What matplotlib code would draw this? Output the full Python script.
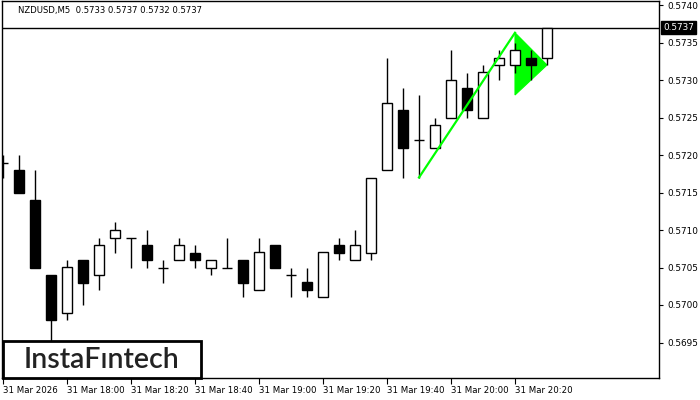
from __future__ import annotations

import matplotlib

matplotlib.use("Agg")

import matplotlib.pyplot as plt
import numpy as np
from matplotlib.patches import Polygon, Rectangle

OUT_PATH = "out.png"

# M5 candles, 17:40 .. 20:30
OPENS = [0.5719, 0.5718, 0.5714, 0.5704, 0.5699, 0.5706, 0.5704, 0.5709, 0.5709, 0.5708,
         0.5705, 0.5706, 0.5707, 0.5705, 0.5705, 0.5706, 0.5702, 0.5708, 0.5704, 0.5703,
         0.5701, 0.5708, 0.5706, 0.5707, 0.5718, 0.5726, 0.5722, 0.5721, 0.5725, 0.5729,
         0.5725, 0.5732, 0.5732, 0.5733, 0.5733]
HIGHS = [0.5720, 0.5720, 0.5718, 0.5704, 0.5706, 0.5706, 0.5709, 0.5711, 0.5709, 0.5710,
         0.5706, 0.5709, 0.5708, 0.5706, 0.5709, 0.5706, 0.5709, 0.5708, 0.5705, 0.5705,
         0.5707, 0.5709, 0.5710, 0.5717, 0.5733, 0.5729, 0.5728, 0.5725, 0.5734, 0.5731,
         0.5732, 0.5734, 0.5735, 0.5734, 0.5737]
LOWS = [0.5717, 0.5715, 0.5705, 0.5694, 0.5698, 0.5700, 0.5702, 0.5707, 0.5705, 0.5705,
        0.5703, 0.5706, 0.5705, 0.5704, 0.5705, 0.5701, 0.5702, 0.5705, 0.5701, 0.5701,
        0.5701, 0.5706, 0.5706, 0.5706, 0.5718, 0.5717, 0.5717, 0.5721, 0.5725, 0.5725,
        0.5725, 0.5730, 0.5731, 0.5730, 0.5732]
CLOSES = [0.5719, 0.5715, 0.5705, 0.5698, 0.5705, 0.5703, 0.5708, 0.5710, 0.5709, 0.5706,
          0.5705, 0.5708, 0.5706, 0.5706, 0.5705, 0.5703, 0.5707, 0.5705, 0.5704, 0.5702,
          0.5707, 0.5707, 0.5708, 0.5717, 0.5727, 0.5721, 0.5722, 0.5724, 0.5730, 0.5726,
          0.5731, 0.5733, 0.5734, 0.5732, 0.5737]

TIME_TICKS = [0, 4, 8, 12, 16, 20, 24, 28, 32]
TIME_LABELS = ["31 Mar 2026", "31 Mar 18:00", "31 Mar 18:20", "31 Mar 18:40", "31 Mar 19:00",
               "31 Mar 19:20", "31 Mar 19:40", "31 Mar 20:00", "31 Mar 20:20"]
PRICE_TICKS = [0.5695, 0.5700, 0.5705, 0.5710, 0.5715, 0.5720, 0.5725, 0.5730, 0.5735, 0.5740]

# bullish pennant: pole and flag
POLE_X = [26, 32]
POLE_Y = [0.5717, 0.57363]
FLAG_X = [32, 32, 34]
FLAG_Y = [0.57363, 0.5728, 0.5732]

LAST_PRICE = 0.5737
TITLE = "NZDUSD,M5  0.5733 0.5737 0.5732 0.5737"

GREEN = "#00ff00"
FONT = "DejaVu Sans"


def draw_candles(ax) -> None:
    o = np.array(OPENS)
    h = np.array(HIGHS)
    l = np.array(LOWS)
    c = np.array(CLOSES)
    x = np.arange(len(o))
    width = 0.62

    ax.vlines(x, l, h, color="black", linewidth=1.0, zorder=2)
    bottoms = np.minimum(o, c)
    heights = np.abs(c - o)
    colors = np.where(c < o, "black", "white")
    solid = heights > 0
    ax.bar(x[solid], heights[solid], bottom=bottoms[solid], width=width,
           color=colors[solid], edgecolor="black", linewidth=1.0, zorder=3)
    ax.hlines(o[~solid], x[~solid] - width / 2, x[~solid] + width / 2,
              color="black", linewidth=1.0, zorder=3)


def main() -> None:
    fig = plt.figure(figsize=(7, 4), dpi=100)
    ax = fig.add_axes([2 / 700, 22 / 400, 657 / 700, 377 / 400])

    draw_candles(ax)

    ax.add_patch(Polygon(list(zip(FLAG_X, FLAG_Y)), closed=True, facecolor=GREEN,
                         edgecolor=GREEN, linewidth=0.8, zorder=1))
    ax.plot(POLE_X, POLE_Y, color=GREEN, linewidth=1.6, zorder=4)

    ax.axhline(LAST_PRICE, color="black", linewidth=1.0, zorder=1)

    ax.set_xlim(-0.0625, 41.0)
    ax.set_ylim(0.5740 - 373 / 75000, 0.5740 + 4 / 75000)

    ax.yaxis.tick_right()
    ax.set_yticks(PRICE_TICKS)
    ax.set_yticklabels([f"{v:.4f}" for v in PRICE_TICKS], fontsize=6.4, family=FONT)
    ax.tick_params(axis="y", direction="out", length=3, width=0.8, pad=3)
    ax.set_xticks(TIME_TICKS)
    ax.set_xticklabels(TIME_LABELS, fontsize=6.2, family=FONT, ha="left")
    ax.tick_params(axis="x", direction="out", length=4, width=0.8, pad=2)
    for spine in ax.spines.values():
        spine.set_linewidth(1.0)

    # current price marker on the price scale
    ax.annotate(f"{LAST_PRICE:.4f}", xy=(1.0, LAST_PRICE), xycoords=("axes fraction", "data"),
                xytext=(3, 0), textcoords="offset points", ha="left", va="center",
                fontsize=6.4, family=FONT, color="white",
                bbox=dict(boxstyle="square,pad=0.2", facecolor="black", edgecolor="black"),
                zorder=10, annotation_clip=False)

    fig.text(18 / 700, 1 - 10 / 400, TITLE, fontsize=6.1, family=FONT, va="center", ha="left")

    fig.patches.append(Rectangle((3 / 700, 22 / 400), 198 / 700, 37 / 400,
                                 transform=fig.transFigure, facecolor="white",
                                 edgecolor="black", linewidth=2.0, zorder=20))
    fig.text(102 / 700, 1 - 360 / 400, "InstaFıntech", fontsize=20.5, family="Lato",
             fontweight="semibold", color="#222222", ha="center", va="center", zorder=21)

    fig.savefig(OUT_PATH, dpi=100)
    plt.close(fig)


if __name__ == "__main__":
    main()
